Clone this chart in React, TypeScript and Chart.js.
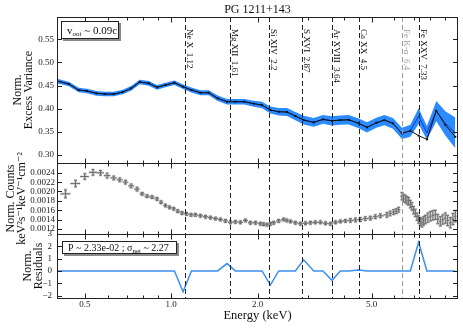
import { useEffect, useRef } from 'react';
import { Chart, registerables } from 'chart.js';
Chart.register(...registerables);

// ---- Panel 1: normalised excess variance per energy bin (keV)
const binEnergy = [0.40, 0.44, 0.476, 0.509, 0.549, 0.587, 0.631, 0.678, 0.725, 0.777, 0.836, 0.893, 0.955, 1.027, 1.100, 1.177, 1.265, 1.352, 1.453, 1.566, 1.675, 1.800, 1.941, 2.074, 2.218, 2.371, 2.535, 2.711, 2.898, 3.141, 3.383, 3.636, 3.890, 4.159, 4.505, 4.815, 5.193, 5.537, 5.933, 6.377, 6.820, 7.291, 7.791, 8.403, 9.032, 9.786];
const excessVar = [0.460, 0.4534, 0.4404, 0.4383, 0.4333, 0.4318, 0.4318, 0.4361, 0.4441, 0.4577, 0.4549, 0.4463, 0.4512, 0.4562, 0.4476, 0.4404, 0.4346, 0.4346, 0.4225, 0.4152, 0.4152, 0.4152, 0.4110, 0.4080, 0.3972, 0.3936, 0.3929, 0.3843, 0.3756, 0.3707, 0.3771, 0.3741, 0.3756, 0.3763, 0.3685, 0.3598, 0.3698, 0.3756, 0.3685, 0.3469, 0.3525, 0.342, 0.334, 0.3957, 0.365, 0.3395];
const modelVar = [0.460, 0.4534, 0.4404, 0.4383, 0.4333, 0.4318, 0.4318, 0.4361, 0.4441, 0.4577, 0.4549, 0.4463, 0.4512, 0.4562, 0.4476, 0.4404, 0.4346, 0.4346, 0.4225, 0.4152, 0.4152, 0.4152, 0.4110, 0.4080, 0.3972, 0.3936, 0.3929, 0.3843, 0.3756, 0.3707, 0.3771, 0.3741, 0.3756, 0.3763, 0.3685, 0.3598, 0.3698, 0.3756, 0.3685, 0.3469, 0.3525, 0.384, 0.348, 0.395, 0.3685, 0.348];
const modelHalfWidth = [0.005, 0.005, 0.005, 0.005, 0.005, 0.005, 0.005, 0.005, 0.005, 0.005, 0.005, 0.005, 0.005, 0.005, 0.005, 0.0055, 0.0055, 0.0055, 0.006, 0.006, 0.006, 0.006, 0.0065, 0.007, 0.0075, 0.008, 0.0085, 0.009, 0.0095, 0.0095, 0.0095, 0.01, 0.01, 0.01, 0.0105, 0.011, 0.011, 0.011, 0.0115, 0.012, 0.013, 0.017, 0.015, 0.022, 0.026, 0.033];
const residuals = [0, 0, 0, 0, 0, 0, 0, 0, 0, 0, 0, 0, 0, 0, -1.7, 0, 0, 0, 0, 0.6, 0, 0, 0, 0, -1.15, 0, 0, 0, 0.9, 0, 0, -0.76, 0, 0, 0.08, 0, 0, 0, 0, 0, 0, 2.33, 0, 0, 0, 0];

// ---- Panel 2: normalised counts spectrum
const specEnergy = [0.428, 0.464, 0.500, 0.534, 0.567, 0.598, 0.631, 0.662, 0.693, 0.725, 0.761, 0.792, 0.824, 0.858, 0.893, 0.922, 0.955, 0.987, 1.021, 1.054, 1.091, 1.131, 1.173, 1.215, 1.265, 1.317, 1.371, 1.427, 1.485, 1.546, 1.609, 1.675, 1.744, 1.815, 1.889, 1.967, 2.047, 2.10, 2.158, 2.22, 2.277, 2.37, 2.468, 2.53, 2.604, 2.71, 2.822, 2.94, 3.058, 3.18, 3.313, 3.45, 3.590, 3.74, 3.890, 4.05, 4.216, 4.39, 4.567, 4.75, 4.948, 5.15, 5.362, 5.653, 5.80, 5.966, 6.09, 6.210, 6.377, 6.46, 6.553, 6.64, 6.729, 6.82, 6.909, 7.00, 7.100, 7.2, 7.291, 7.39, 7.487, 7.59, 7.693, 7.85, 8.008, 8.17, 8.336, 8.5, 8.677, 8.85, 9.032, 9.2, 9.401, 9.6, 9.786];
const specCounts = [0.00195, 0.00217, 0.00232, 0.00241, 0.00240, 0.00234, 0.00229, 0.00225, 0.00220, 0.00212, 0.00205, 0.00195, 0.00190, 0.00188, 0.00184, 0.00177, 0.00170, 0.00166, 0.00163, 0.00158, 0.00154, 0.00152, 0.00150, 0.00150, 0.00148, 0.00146, 0.00144, 0.00142, 0.00140, 0.00137, 0.00134, 0.00135, 0.00134, 0.00138, 0.00133, 0.00133, 0.00131, 0.00130, 0.00129, 0.00131, 0.00133, 0.00137, 0.00140, 0.00138, 0.00136, 0.00133, 0.00131, 0.00132, 0.00133, 0.00134, 0.00134, 0.00132, 0.00131, 0.00134, 0.00136, 0.00137, 0.00138, 0.00139, 0.00140, 0.00142, 0.00143, 0.00146, 0.00148, 0.00150, 0.00153, 0.00156, 0.00158, 0.00161, 0.00190, 0.00186, 0.00184, 0.00181, 0.00179, 0.00173, 0.00168, 0.00160, 0.00154, 0.00146, 0.00140, 0.00136, 0.00133, 0.00137, 0.00140, 0.00144, 0.00147, 0.00149, 0.00150, 0.00141, 0.00136, 0.00140, 0.00143, 0.00138, 0.00133, 0.00141, 0.00147];
const specErr = [0.000085, 0.00007, 0.00006, 0.00006, 0.00005, 0.00005, 0.00004, 0.00004, 0.00004, 0.00004, 0.00004, 0.00003, 0.00003, 0.00003, 0.00003, 0.00003, 0.00003, 0.00003, 0.00003, 0.00003, 0.00003, 0.00003, 0.00003, 0.00003, 0.00003, 0.00003, 0.00003, 0.00003, 0.00003, 0.00003, 0.00003, 0.00003, 0.00003, 0.00003, 0.00003, 0.00003, 0.00003, 0.00003, 0.00003, 0.00003, 0.00003, 0.00003, 0.00003, 0.00003, 0.00003, 0.00003, 0.00003, 0.00003, 0.00003, 0.00003, 0.00003, 0.00003, 0.00003, 0.00003, 0.00003, 0.00003, 0.00004, 0.00004, 0.00004, 0.00004, 0.00004, 0.00004, 0.00004, 0.00005, 0.00005, 0.00005, 0.00005, 0.00005, 0.00008, 0.00008, 0.00008, 0.00008, 0.00008, 0.00008, 0.00008, 0.00008, 0.00008, 0.00008, 0.00008, 0.00008, 0.00009, 0.00009, 0.00009, 0.0001, 0.0001, 0.0001, 0.0001, 0.0001, 0.0001, 0.0001, 0.00011, 0.00011, 0.00011, 0.00012, 0.00012];

// ---- Line identifications
const lineEnergies = [1.12, 1.61, 2.2, 2.87, 3.64, 4.5, 6.4, 7.33];
const lineNames = ['Ne X  1.12', 'Mg XII  1.61', 'Si XIV  2.2', 'S XVI  2.87', 'Ar XVIII  3.64', 'Ca XX  4.5', 'Fe K-\u03b1  6.4', 'Fe XXV  7.33'];
const lineGrey = [false, false, false, false, false, false, true, false];

// ---- Ticks
const xMajorTicks = [0.5, 1, 2, 5];
const xMinorTicks = [0.4, 0.6, 0.7, 0.8, 0.9, 3, 4, 6, 7, 8, 9];
const varTicks = [0.30, 0.35, 0.40, 0.45, 0.50, 0.55];
const countTicks = [0.0012, 0.0014, 0.0016, 0.0018, 0.0020, 0.0022, 0.0024];
const resTicks = [-2, -1, 0, 1, 2, 3];

const SERIF = '"Liberation Serif", "DejaVu Serif", serif';

export default function App() {
  const ref = useRef<HTMLCanvasElement>(null);

  useEffect(() => {
    const canvas = ref.current!;

    const overlay = {
      id: 'overlay',
      afterDatasetsDraw(chart: any) {
        const { ctx, chartArea: a, scales } = chart;
        const xs = scales.x, p1 = scales.y1, p2 = scales.y2, p3 = scales.y3;
        ctx.save();

        // error bars (panel 2)
        const px = specEnergy.map((e) => xs.getPixelForValue(e));
        for (let pass = 0; pass < 2; pass++) {
          ctx.strokeStyle = pass === 0 ? 'rgba(160,160,160,0.45)' : '#6b6b6b';
          ctx.lineWidth = pass === 0 ? 2.6 : 1;
          ctx.beginPath();
          for (let i = 0; i < specEnergy.length; i++) {
            const x = px[i];
            const lh = i > 0 ? (x - px[i - 1]) / 2 : (px[1] - x) / 2;
            const rh = i < px.length - 1 ? (px[i + 1] - x) / 2 : lh;
            const y = p2.getPixelForValue(specCounts[i]);
            const yt = p2.getPixelForValue(specCounts[i] + specErr[i]);
            const yb = p2.getPixelForValue(specCounts[i] - specErr[i]);
            ctx.moveTo(x - lh, y); ctx.lineTo(x + rh, y);
            ctx.moveTo(x, yt); ctx.lineTo(x, yb);
            ctx.moveTo(x - 1.5, yt); ctx.lineTo(x + 1.5, yt);
            ctx.moveTo(x - 1.5, yb); ctx.lineTo(x + 1.5, yb);
          }
          ctx.stroke();
        }

        // dashed line markers
        ctx.lineWidth = 1;
        ctx.setLineDash([5, 3]);
        lineEnergies.forEach((e, i) => {
          const X = Math.round(xs.getPixelForValue(e)) + 0.5;
          ctx.strokeStyle = lineGrey[i] ? '#9a9a9a' : '#222';
          ctx.beginPath(); ctx.moveTo(X, a.top); ctx.lineTo(X, a.bottom); ctx.stroke();
        });
        ctx.setLineDash([]);

        // rotated labels
        ctx.font = '9px ' + SERIF;
        ctx.textBaseline = 'alphabetic';
        ctx.textAlign = 'left';
        lineEnergies.forEach((e, i) => {
          const X = xs.getPixelForValue(e);
          ctx.save();
          ctx.translate(X + 2, a.top + 12);
          ctx.rotate(Math.PI / 2);
          ctx.fillStyle = lineGrey[i] ? '#9a9a9a' : '#111';
          ctx.fillText(lineNames[i], 0, 0);
          ctx.restore();
        });

        // panel frames and inward ticks
        ctx.strokeStyle = '#222';
        ctx.lineWidth = 1;
        const panels = [[p1, varTicks], [p2, countTicks], [p3, resTicks]] as any[];
        for (const [p, ticks] of panels) {
          const top = Math.round(p.top) + 0.5, bot = Math.round(p.bottom) + 0.5;
          ctx.strokeRect(a.left + 0.5, top, a.right - a.left - 1, bot - top);
          ctx.beginPath();
          for (const v of xMajorTicks) {
            const X = Math.round(xs.getPixelForValue(v)) + 0.5;
            ctx.moveTo(X, top); ctx.lineTo(X, top + 5);
            ctx.moveTo(X, bot); ctx.lineTo(X, bot - 5);
          }
          for (const v of xMinorTicks) {
            const X = Math.round(xs.getPixelForValue(v)) + 0.5;
            ctx.moveTo(X, top); ctx.lineTo(X, top + 3);
            ctx.moveTo(X, bot); ctx.lineTo(X, bot - 3);
          }
          for (const v of ticks) {
            const Y = Math.round(p.getPixelForValue(v)) + 0.5;
            ctx.moveTo(a.left, Y); ctx.lineTo(a.left + 5, Y);
            ctx.moveTo(a.right, Y); ctx.lineTo(a.right - 5, Y);
          }
          ctx.stroke();
        }

        // annotation boxes
        const box = (x: number, y: number, w: number, h: number) => {
          ctx.fillStyle = '#8a8a8a'; ctx.fillRect(x + 2, y + 2, w, h);
          ctx.fillStyle = '#fff'; ctx.fillRect(x, y, w, h);
          ctx.strokeStyle = '#222'; ctx.lineWidth = 1; ctx.strokeRect(x + 0.5, y + 0.5, w - 1, h - 1);
        };
        const bx1 = a.left + 4, by1 = p1.top + 4;
        box(bx1, by1, 58, 18);
        ctx.fillStyle = '#111';
        let tx = bx1 + 6;
        const base1 = by1 + 13;
        ctx.font = '11px ' + SERIF; ctx.fillText('v', tx, base1); tx += ctx.measureText('v').width;
        ctx.font = 'italic 7px ' + SERIF; ctx.fillText('out', tx, base1 + 2); tx += ctx.measureText('out').width;
        ctx.font = '11px ' + SERIF; ctx.fillText(' ~ 0.09c', tx, base1);

        const bx2 = a.left + 5, by2 = p3.top + 7;
        box(bx2, by2, 115, 13);
        ctx.fillStyle = '#111';
        tx = bx2 + 6;
        const base2 = by2 + 10;
        const t1 = 'P ~ 2.33e-02 ; \u03c3';
        ctx.font = '10px ' + SERIF; ctx.fillText(t1, tx, base2); tx += ctx.measureText(t1).width;
        ctx.font = '7px ' + SERIF; ctx.fillText('net', tx, base2 + 2); tx += ctx.measureText('net').width;
        ctx.font = '10px ' + SERIF; ctx.fillText(' ~ 2.27', tx, base2);

        // titles
        const cx = (a.left + a.right) / 2;
        ctx.textAlign = 'center';
        ctx.fillStyle = '#111';
        ctx.font = '12px ' + SERIF;
        ctx.fillText('PG 1211+143', cx, 13);
        ctx.font = '12.5px ' + SERIF;
        ctx.textBaseline = 'middle';
        ctx.fillText('Energy (keV)', cx, 316);
        ctx.restore();
      },
    };

    const yCommon = (ticks: number[], digits: number, pad: number) => ({
      type: 'linear' as const,
      position: 'left' as const,
      stack: 'panels',
      grid: { display: false, drawTicks: false },
      border: { display: false },
      afterBuildTicks: (s: any) => { s.ticks = ticks.map((v) => ({ value: v })); },
      afterFit: (s: any) => { s.width = 57; },
      ticks: {
        autoSkip: false,
        padding: pad,
        color: '#222',
        font: { family: SERIF, size: 9 },
        callback: (v: any) => {
          const n = Number(v);
          return (n < 0 ? '\u2212' : '') + Math.abs(n).toFixed(digits);
        },
      },
    });

    const titleFont = { family: SERIF, size: 12, lineHeight: 0.92 };

    const chart = new Chart(canvas, {
      type: 'line',
      data: {
        datasets: [
          {
            data: binEnergy.map((e, i) => ({ x: e, y: modelVar[i] - modelHalfWidth[i] })),
            yAxisID: 'y1', borderWidth: 0, pointRadius: 0, fill: false, order: 10,
            borderColor: 'rgba(0,0,0,0)',
          },
          {
            data: binEnergy.map((e, i) => ({ x: e, y: modelVar[i] + modelHalfWidth[i] })),
            yAxisID: 'y1', borderWidth: 0, pointRadius: 0, fill: '-1', order: 9,
            borderColor: 'rgba(0,0,0,0)', backgroundColor: '#2b8cff',
          },
          {
            data: binEnergy.map((e, i) => ({ x: e, y: modelVar[i] })),
            yAxisID: 'y1', borderWidth: 1, pointRadius: 0, fill: false, order: 5,
            borderColor: '#1537d6',
          },
          {
            data: binEnergy.map((e, i) => ({ x: e, y: excessVar[i] })),
            yAxisID: 'y1', borderWidth: 1, pointRadius: 1.4, pointStyle: 'rect', order: 1,
            pointBackgroundColor: '#111', pointBorderColor: '#111', pointBorderWidth: 0,
            fill: false, borderColor: '#111',
          },
          {
            data: specEnergy.map((e, i) => ({ x: e, y: specCounts[i] })),
            yAxisID: 'y2', showLine: false, pointRadius: 0, fill: false, order: 1,
          },
          {
            data: binEnergy.map((e, i) => ({ x: e, y: residuals[i] })),
            yAxisID: 'y3', borderWidth: 1.5, pointRadius: 0, fill: false, order: 1,
            borderColor: '#3b8ef2',
          },
        ],
      },
      options: {
        animation: false,
        responsive: false,
        devicePixelRatio: 1,
        layout: { padding: { top: 17, right: 5, left: 0, bottom: 0 } },
        plugins: { legend: { display: false }, tooltip: { enabled: false }, filler: { drawTime: 'beforeDatasetsDraw' } },
        scales: {
          x: {
            type: 'logarithmic',
            min: 0.4,
            max: 10,
            position: 'bottom',
            grid: { display: false, drawTicks: false },
            border: { display: false },
            afterBuildTicks: (s: any) => { s.ticks = xMajorTicks.map((v) => ({ value: v })); },
            afterFit: (s: any) => { s.height = 30; },
            ticks: {
              autoSkip: false, maxRotation: 0, padding: 1, color: '#222',
              font: { family: SERIF, size: 9 },
              callback: (v: any) => Number(v).toFixed(1),
            },
          },
          y3: {
            ...yCommon(resTicks, 0, 5),
            min: -2.2, max: 3, stackWeight: 64,
            title: { display: true, text: ['Norm.', 'Residuals'], font: titleFont, color: '#111', padding: { top: 22, bottom: 0 } },
          },
          y2: {
            ...yCommon(countTicks, 4, 2),
            min: 0.00109, max: 0.00261, stackWeight: 71,
            title: { display: true, text: ['Norm. Counts', 'keV\u00b2s\u207b\u00b9keV\u207b\u00b9cm\u207b\u00b2'], font: titleFont, color: '#111', padding: { top: 5, bottom: 0 } },
          },
          y1: {
            ...yCommon(varTicks, 2, 3),
            min: 0.283, max: 0.598, stackWeight: 146,
            title: { display: true, text: ['Norm.', 'Excess Variance'], font: titleFont, color: '#111', padding: { top: 12, bottom: 0 } },
          },
        },
      } as any,
      plugins: [overlay],
    });
    return () => chart.destroy();
  }, []);

  return (
    <div style={{ position: 'absolute', left: 0, top: 0, width: 463, height: 328, background: '#fff' }}>
      <canvas ref={ref} width={463} height={328} style={{ display: 'block', width: 463, height: 328 }} />
    </div>
  );
}
